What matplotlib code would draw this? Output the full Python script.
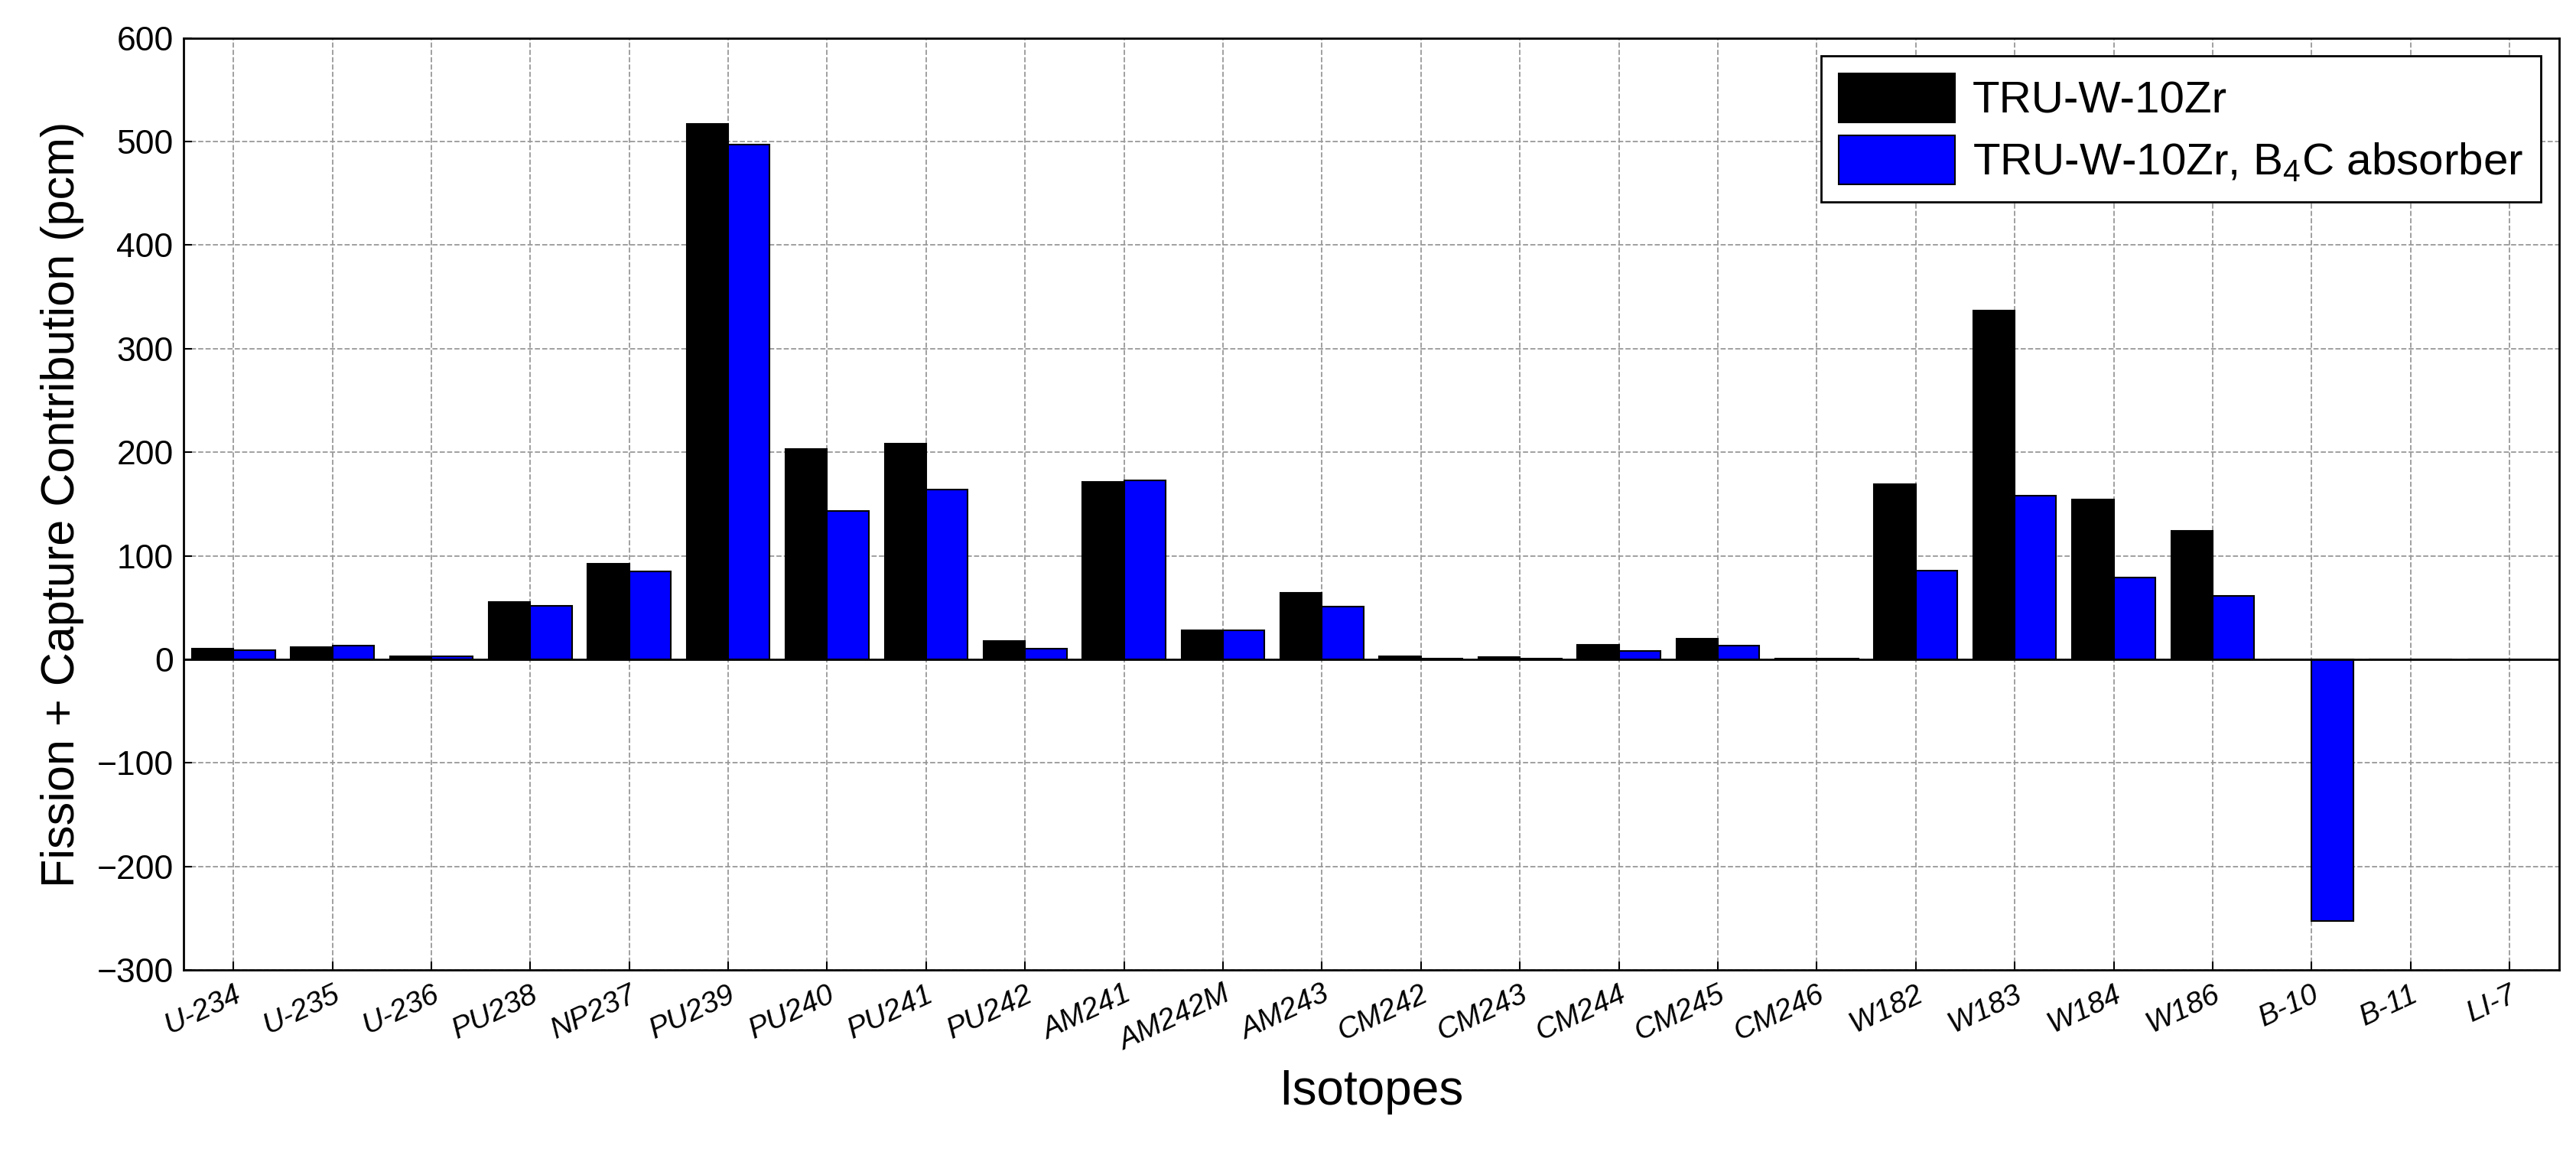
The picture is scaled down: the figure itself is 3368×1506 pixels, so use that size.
import matplotlib
matplotlib.use("Agg")
import matplotlib.pyplot as plt
import numpy as np

plt.rcParams['font.family'] = ['Liberation Sans', 'DejaVu Sans']
plt.rcParams['mathtext.fontset'] = 'custom'
plt.rcParams['mathtext.rm'] = 'Liberation Sans'

isotopes = ["U-234","U-235","U-236","PU238","NP237","PU239","PU240","PU241","PU242",
            "AM241","AM242M","AM243","CM242","CM243","CM244","CM245","CM246",
            "W182","W183","W184","W186","B-10","B-11","LI-7"]
tru = [10,12,3,55,92,517,203,208,18,171,28,64,3,2,14,20,1,169,337,154,124,0,0,0]
tru_b4c = [9,13,3,52,85,497,143,164,10,173,28,51,1,1,8,13,0.5,86,158,79,61,-253,0,0]

fig = plt.figure(figsize=(33.68,15.06), dpi=100)
ax = fig.add_axes([0.0714,0.158,0.922,0.809])
x = np.arange(len(isotopes))
w = 0.42
ax.bar(x-w/2, tru, w, color='black', edgecolor='black', linewidth=1.5, label='TRU-W-10Zr', zorder=3)
ax.bar(x+w/2, tru_b4c, w, color='#0000ff', edgecolor='black', linewidth=1.5,
       label='TRU-W-10Zr, B$_4$C absorber', zorder=3)
ax.axhline(0, color='black', linewidth=2, zorder=4)
ax.set_xlim(-0.5, len(isotopes)-0.5)
ax.set_ylim(-300, 600)
ax.set_yticks(range(-300, 601, 100))
ax.set_xticks(x)
ax.set_xticklabels(isotopes, rotation=25, ha='right', rotation_mode='anchor', fontsize=28,
                   style='italic')
ax.tick_params(axis='y', labelsize=32, direction='in', length=8, width=1.5, pad=10)
ax.tick_params(axis='x', direction='in', length=8, width=1.5, pad=10)
ax.grid(True, linestyle='--', color='#999999', linewidth=1.3, zorder=0)
for s in ax.spines.values():
    s.set_linewidth(2)
ax.set_xlabel('Isotopes', fontsize=46, labelpad=12)
ax.set_ylabel('Fission + Capture Contribution (pcm)', fontsize=44, labelpad=12)
leg = ax.legend(loc='upper right', fontsize=42, fancybox=False, edgecolor='black',
                framealpha=1, handlelength=2.6, handleheight=1.3, borderaxespad=0.4,
                labelspacing=0.3, handletextpad=0.4)
leg.get_frame().set_linewidth(2)
fig.savefig('out.png', dpi=100)
